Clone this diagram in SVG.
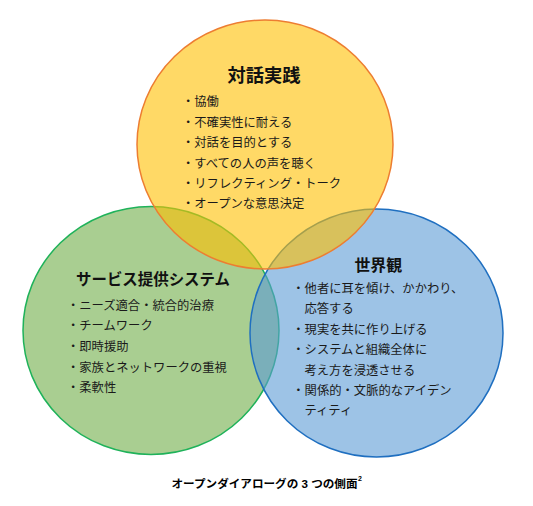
<svg xmlns="http://www.w3.org/2000/svg" width="533" height="506" viewBox="0 0 533 506">
<style>
  .t { font-family: "Noto Sans CJK JP", "Noto Sans CJK SC", sans-serif; }
  .title { font-weight: bold; fill: #111; }
  .item { font-size: 12.3px; fill: #1a1a1a; }
  .c { fill-opacity: 0.6; stroke-width: 1.5; }
</style>
<rect width="533" height="506" fill="#ffffff"/>
<g id="connectors"></g>
<g id="node-service">
  <ellipse class="c" cx="151" cy="330.5" rx="128" ry="124" fill="#70AD47" stroke="#1FB25A"/>
  <text class="t title" x="76" y="285.3" font-size="15.5" textLength="154" lengthAdjust="spacingAndGlyphs">サービス提供システム</text>
  <g class="t item">
    <text x="67" y="309.6">・ニーズ適合・統合的治療</text>
    <text x="67" y="330.3">・チームワーク</text>
    <text x="67" y="351.0">・即時援助</text>
    <text x="67" y="371.7">・家族とネットワークの重視</text>
    <text x="67" y="392.4">・柔軟性</text>
  </g>
</g>
<g id="node-worldview">
  <ellipse class="c" cx="376.5" cy="333" rx="126.5" ry="124" fill="#5B9BD5" stroke="#1F6FC0"/>
  <text class="t title" x="354.5" y="270.6" font-size="15.5" textLength="47.5" lengthAdjust="spacingAndGlyphs">世界観</text>
  <g class="t item">
    <text x="292.3" y="293">・他者に耳を傾け、かかわり、</text>
    <text x="304.5" y="313.4">応答する</text>
    <text x="292.3" y="333.8">・現実を共に作り上げる</text>
    <text x="292.3" y="354.2">・システムと組織全体に</text>
    <text x="304.5" y="374.6">考え方を浸透させる</text>
    <text x="292.3" y="395">・関係的・文脈的なアイデン</text>
    <text x="304.5" y="415.4">ティティ</text>
  </g>
</g>
<g id="node-dialogue">
  <ellipse class="c" cx="265" cy="144.5" rx="128" ry="124.5" fill="#FFC000" stroke="#ED7D31"/>
  <text class="t title" x="227.5" y="81.5" font-size="18" textLength="73" lengthAdjust="spacingAndGlyphs">対話実践</text>
  <g class="t item">
    <text x="182" y="106.3">・協働</text>
    <text x="182" y="126.7">・不確実性に耐える</text>
    <text x="182" y="147.1">・対話を目的とする</text>
    <text x="182" y="167.5">・すべての人の声を聴く</text>
    <text x="182" y="187.9">・リフレクティング・トーク</text>
    <text x="182" y="208.3">・オープンな意思決定</text>
  </g>
</g>
<g id="caption">
  <text x="171.5" y="487.5" font-family="Liberation Sans, Noto Sans CJK JP, sans-serif" font-size="11" font-weight="bold" fill="#000" textLength="186" lengthAdjust="spacingAndGlyphs">オープンダイアローグの 3 つの側面</text>
  <text x="358" y="481" font-family="Liberation Sans, sans-serif" font-size="7" font-weight="bold" fill="#000">2</text>
</g>
</svg>
